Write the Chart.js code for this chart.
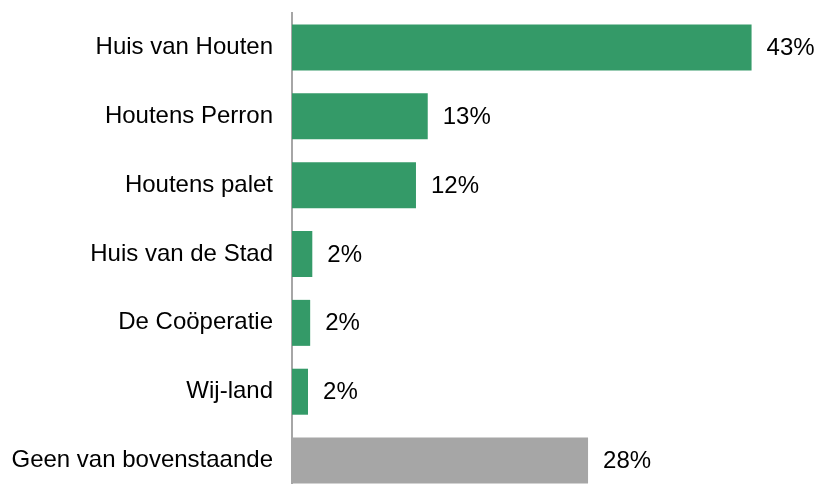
<!DOCTYPE html>
<html>
<head>
<meta charset="utf-8">
<script src="https://cdn.jsdelivr.net/npm/chart.js@4/dist/chart.umd.min.js"></script>
<style>
    html, body { margin: 0; padding: 0; background: #fff; overflow: hidden; }
    #wrap { width: 818px; height: 484px; overflow: hidden; }
</style>
</head>
<body>
<div id="wrap">
    <canvas id="chart" width="818" height="495"></canvas>
</div>
<script>
// Answers (share of respondents, %)
const categories = ['Huis van Houten', 'Houtens Perron', 'Houtens palet', 'Huis van de Stad', 'De Coöperatie', 'Wij-land', 'Geen van bovenstaande'];
const values = [43.0, 12.7, 11.6, 1.9, 1.7, 1.5, 27.7];
const barColors = ['#349a68', '#349a68', '#349a68', '#349a68', '#349a68', '#349a68', '#a6a6a6'];

const FONT = '"Liberation Sans", Arial, sans-serif';

// Draw the percentage right of each bar
const valueLabels = {
    id: 'valueLabels',
    afterDatasetsDraw(chart) {
        const ctx = chart.ctx;
        const meta = chart.getDatasetMeta(0);
        ctx.save();
        ctx.font = '24px ' + FONT;
        ctx.fillStyle = '#000';
        ctx.textAlign = 'left';
        ctx.textBaseline = 'middle';
        meta.data.forEach((bar, i) => {
            ctx.fillText(Math.round(values[i]) + '%', bar.x + 15, bar.y + 1);
        });
        ctx.restore();
    }
};

const ctx = document.getElementById('chart').getContext('2d');
new Chart(ctx, {
    type: 'bar',
    data: {
        labels: categories,
        datasets: [{
            data: values,
            backgroundColor: barColors,
            borderWidth: 0,
            categoryPercentage: 1,
            barPercentage: 0.668
        }]
    },
    options: {
        indexAxis: 'y',
        responsive: false,
        animation: false,
        devicePixelRatio: 1,
        layout: { padding: { top: 13, right: 13, bottom: 0, left: 0 } },
        plugins: {
            legend: { display: false },
            tooltip: { enabled: false }
        },
        scales: {
            x: {
                display: false,
                min: 0,
                max: 48
            },
            y: {
                grid: { display: false, drawTicks: false },
                border: { display: true, color: '#a6a6a6', width: 2 },
                ticks: {
                    color: '#000',
                    padding: 19,
                    font: { size: 24, family: FONT }
                },
                afterFit(scale) {
                    scale.width = 292;
                    scale.paddingTop = 0;
                    scale.paddingBottom = 0;
                }
            }
        }
    },
    plugins: [valueLabels]
});
</script>
</body>
</html>
